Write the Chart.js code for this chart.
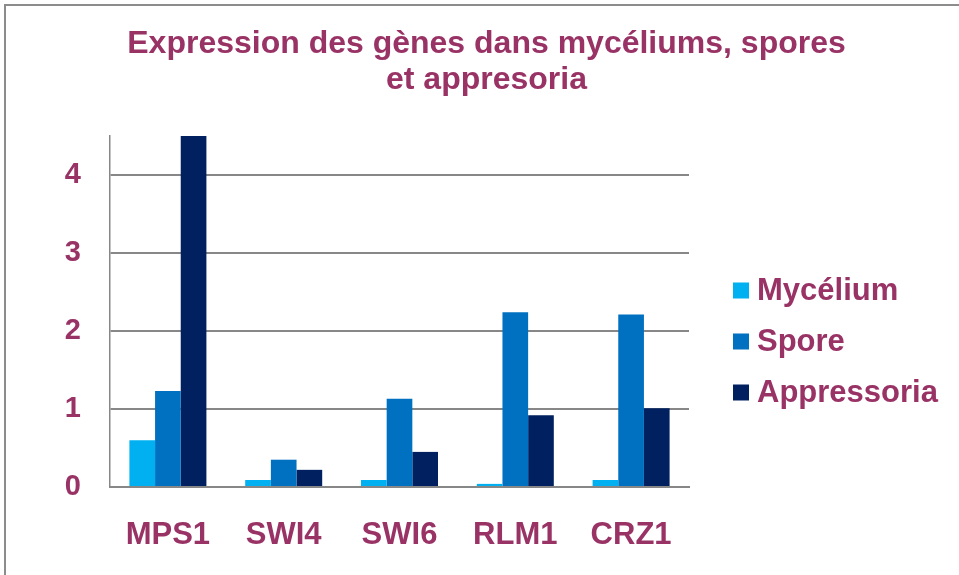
<!DOCTYPE html>
<html>
<head>
<meta charset="utf-8">
<script src="https://cdn.jsdelivr.net/npm/chart.js@4/dist/chart.umd.min.js"></script>
<style>
  html, body { margin: 0; padding: 0; background: #fff; }
  #wrap { position: relative; width: 959px; height: 575px; overflow: hidden; }
  #frame { position: absolute; left: 4px; top: 4px; width: 1200px; height: 1200px;
           border: 2px solid #8c8c8c; box-sizing: border-box; }
  #holder { position: absolute; left: 0; top: 0; width: 959px; height: 575px; }
</style>
</head>
<body>
<div id="wrap">
  <div id="frame"></div>
  <div id="holder"><canvas id="c"></canvas></div>
</div>
<script>
// Gene names on the x axis
const genes = ['MPS1', 'SWI4', 'SWI6', 'RLM1', 'CRZ1'];
// Relative expression per tissue
const mycelium = [0.60, 0.09, 0.09, 0.04, 0.09];
const spore = [1.23, 0.35, 1.13, 2.24, 2.21];
const appressoria = [4.5, 0.22, 0.45, 0.92, 1.01];
const seriesNames = ['Mycélium', 'Spore', 'Appressoria'];
const seriesColors = ['#00B0F0', '#0070C0', '#002060'];
const titleLines = ['Expression des gènes dans mycéliums, spores', 'et appresoria'];

const textColor = '#993366';
const gridColor = '#878787';
const fontFamily = '"Liberation Sans", Arial, sans-serif';

// Legend drawn to the right of the plot: square swatch + bold label per series
const sideLegend = {
  id: 'sideLegend',
  afterDraw(chart, args, opts) {
    const ctx = chart.ctx;
    ctx.save();
    ctx.font = `bold ${opts.fontSize}px ${fontFamily}`;
    ctx.textBaseline = 'middle';
    ctx.textAlign = 'left';
    chart.data.datasets.forEach((ds, i) => {
      const cy = opts.top + i * opts.spacing;
      ctx.fillStyle = ds.backgroundColor;
      ctx.fillRect(opts.left, cy - opts.box / 2, opts.box, opts.box);
      ctx.fillStyle = textColor;
      ctx.fillText(ds.label, opts.left + opts.box + opts.gap, cy + 1);
    });
    ctx.restore();
  }
};

new Chart(document.getElementById('c'), {
  type: 'bar',
  data: {
    labels: genes,
    datasets: [
      { label: seriesNames[0], data: mycelium, backgroundColor: seriesColors[0] },
      { label: seriesNames[1], data: spore, backgroundColor: seriesColors[1] },
      { label: seriesNames[2], data: appressoria, backgroundColor: seriesColors[2] }
    ]
  },
  plugins: [sideLegend],
  options: {
    responsive: true,
    maintainAspectRatio: false,
    animation: false,
    layout: { padding: { left: 14, right: 0, top: 0, bottom: 0 } },
    datasets: { bar: { categoryPercentage: 0.665, barPercentage: 1.0 } },
    plugins: {
      title: {
        display: true,
        text: titleLines,
        color: textColor,
        font: { family: fontFamily, size: 32, weight: 'bold', lineHeight: 1.125 },
        padding: { top: 26, bottom: 38 }
      },
      legend: { display: false },
      sideLegend: { left: 733, top: 290.5, spacing: 51, box: 16, gap: 8, fontSize: 31 },
      tooltip: { enabled: false }
    },
    scales: {
      x: {
        grid: { display: false, drawTicks: false },
        border: { display: true, color: gridColor, width: 2 },
        afterFit: (scale) => { scale.height = 88; },
        ticks: {
          color: textColor,
          padding: 30,
          font: { family: fontFamily, size: 31, weight: 'bold' }
        }
      },
      y: {
        min: 0,
        max: 4.5,
        afterBuildTicks: (scale) => {
          scale.ticks = scale.ticks.filter(t => Number.isInteger(t.value));
        },
        afterFit: (scale) => { scale.width = 96; },
        ticks: {
          stepSize: 1,
          color: textColor,
          padding: 29,
          font: { family: fontFamily, size: 29, weight: 'bold' }
        },
        grid: { color: gridColor, lineWidth: 2, drawTicks: false },
        border: { display: true, color: gridColor, width: 1.5 }
      },
      // empty right-hand scale that reserves the space used by the legend
      legendSpace: {
        type: 'linear',
        position: 'right',
        grid: { display: false, drawTicks: false },
        border: { display: false },
        ticks: { display: false },
        afterFit: (scale) => { scale.width = 270; }
      }
    }
  }
});
</script>
</body>
</html>
